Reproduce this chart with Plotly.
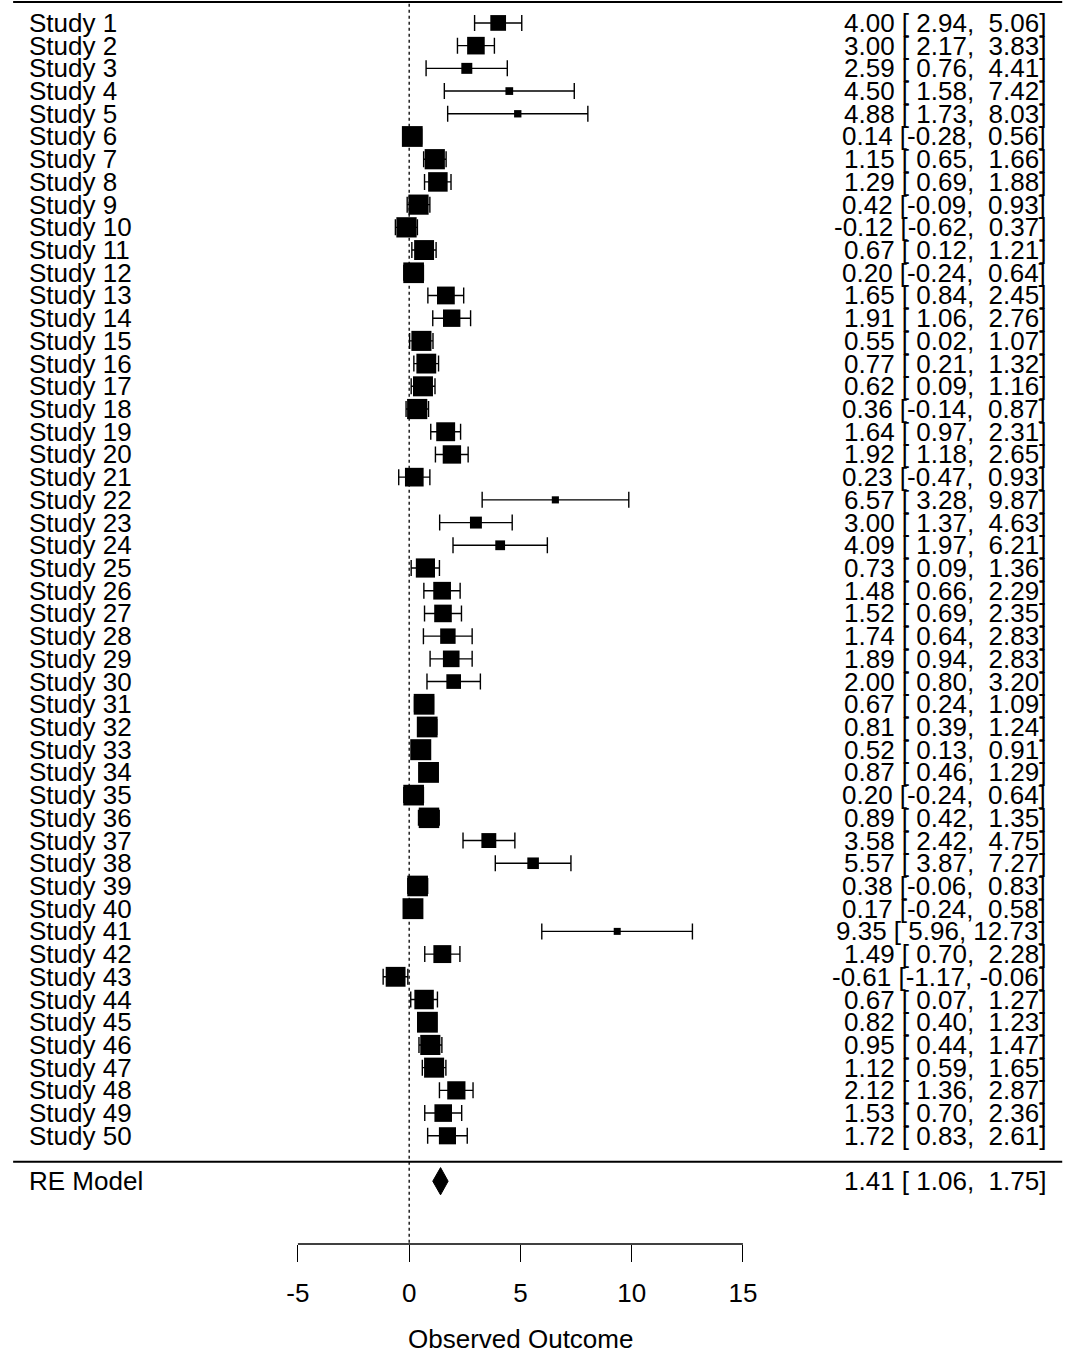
import plotly.graph_objects as go

studies = [f"Study {i}" for i in range(1, 51)]
est = [4.00, 3.00, 2.59, 4.50, 4.88, 0.14, 1.15, 1.29, 0.42, -0.12,
       0.67, 0.20, 1.65, 1.91, 0.55, 0.77, 0.62, 0.36, 1.64, 1.92,
       0.23, 6.57, 3.00, 4.09, 0.73, 1.48, 1.52, 1.74, 1.89, 2.00,
       0.67, 0.81, 0.52, 0.87, 0.20, 0.89, 3.58, 5.57, 0.38, 0.17,
       9.35, 1.49, -0.61, 0.67, 0.82, 0.95, 1.12, 2.12, 1.53, 1.72]
lower = [2.94, 2.17, 0.76, 1.58, 1.73, -0.28, 0.65, 0.69, -0.09, -0.62,
         0.12, -0.24, 0.84, 1.06, 0.02, 0.21, 0.09, -0.14, 0.97, 1.18,
         -0.47, 3.28, 1.37, 1.97, 0.09, 0.66, 0.69, 0.64, 0.94, 0.80,
         0.24, 0.39, 0.13, 0.46, -0.24, 0.42, 2.42, 3.87, -0.06, -0.24,
         5.96, 0.70, -1.17, 0.07, 0.40, 0.44, 0.59, 1.36, 0.70, 0.83]
upper = [5.06, 3.83, 4.41, 7.42, 8.03, 0.56, 1.66, 1.88, 0.93, 0.37,
         1.21, 0.64, 2.45, 2.76, 1.07, 1.32, 1.16, 0.87, 2.31, 2.65,
         0.93, 9.87, 4.63, 6.21, 1.36, 2.29, 2.35, 2.83, 2.83, 3.20,
         1.09, 1.24, 0.91, 1.29, 0.64, 1.35, 4.75, 7.27, 0.83, 0.58,
         12.73, 2.28, -0.06, 1.27, 1.23, 1.47, 1.65, 2.87, 2.36, 2.61]
re_label = "RE Model"
re_est, re_lower, re_upper = 1.41, 1.06, 1.75
xticks = [-5, 0, 5, 10, 15]
xlabel = "Observed Outcome"

FONT = "Liberation Sans, Arial, Helvetica, sans-serif"
FS = 26
k = len(studies)
rows = [k - i for i in range(k)]  # 50 .. 1
re_row = -1

# square sizes scaled by inverse-variance (random-effects style) weights
tau2 = 0.5
w = [1.0 / (((u - l) / 3.92) ** 2 + tau2) for l, u in zip(lower, upper)]
wmin, wmax = min(w), max(w)
sizes = [7 + 14 * (wi - wmin) / (wmax - wmin) for wi in w]

fig = go.Figure()

# confidence intervals (drawn first, under the squares)
fig.add_trace(go.Scatter(
    x=est, y=rows, mode="markers",
    marker=dict(size=1, color="rgba(0,0,0,0)"),
    error_x=dict(type="data", symmetric=False,
                 array=[u - e for u, e in zip(upper, est)],
                 arrayminus=[e - l for e, l in zip(est, lower)],
                 color="black", thickness=1.4, width=8),
    showlegend=False, hoverinfo="skip"))

# point estimates
fig.add_trace(go.Scatter(
    x=est, y=rows, mode="markers",
    marker=dict(symbol="square", size=sizes, color="black", opacity=1,
                line=dict(width=0)),
    showlegend=False, hoverinfo="skip"))

# summary diamond
h = 0.6
fig.add_trace(go.Scatter(
    x=[re_lower, re_est, re_upper, re_est, re_lower],
    y=[re_row, re_row + h, re_row, re_row - h, re_row],
    mode="lines", fill="toself", fillcolor="black",
    line=dict(color="black", width=1), showlegend=False, hoverinfo="skip"))

xl, xr = -17.8, 29.35
x_lab = -17.18
x_ann = 28.69
ytop = 51.01
ybot = -3.765

NB = "\u00a0"
def fmt(e, l, u):
    s = f"{e:.2f} [{l:5.2f}, {u:5.2f}]"
    return s.replace(" ", NB)

annotations = []
for name, r, e, l, u in zip(studies, rows, est, lower, upper):
    annotations.append(dict(x=x_lab, y=r, xref="x", yref="y", text=name,
                            xanchor="left", yanchor="middle", showarrow=False,
                            font=dict(family=FONT, size=FS, color="black")))
    annotations.append(dict(x=x_ann, y=r, xref="x", yref="y", text=fmt(e, l, u),
                            xanchor="right", yanchor="middle", showarrow=False,
                            font=dict(family=FONT, size=FS, color="black")))
annotations.append(dict(x=x_lab, y=re_row, xref="x", yref="y", text=re_label,
                        xanchor="left", yanchor="middle", showarrow=False,
                        font=dict(family=FONT, size=FS, color="black")))
annotations.append(dict(x=x_ann, y=re_row, xref="x", yref="y",
                        text=fmt(re_est, re_lower, re_upper),
                        xanchor="right", yanchor="middle", showarrow=False,
                        font=dict(family=FONT, size=FS, color="black")))
annotations.append(dict(x=(xticks[0] + xticks[-1]) / 2, y=0.0, xref="x",
                        yref="paper", yshift=-95, text=xlabel,
                        xanchor="center", yanchor="middle", showarrow=False,
                        font=dict(family=FONT, size=FS, color="black")))

shapes = [
    dict(type="line", xref="x", yref="y", x0=xl, x1=xr, y0=50.92, y1=50.92,
         line=dict(color="black", width=2)),
    dict(type="line", xref="x", yref="y", x0=xl, x1=xr, y0=-0.14, y1=-0.14,
         line=dict(color="black", width=2)),
    dict(type="line", xref="x", yref="y", x0=0, x1=0, y0=50.85, y1=ybot,
         line=dict(color="black", width=1.3, dash="dot")),
    dict(type="line", xref="x", yref="y domain", x0=xticks[0], x1=xticks[-1],
         y0=0, y1=0, line=dict(color="black", width=1.4)),
]

fig.update_layout(
    width=1066, height=1353,
    margin=dict(l=0, r=0, t=0, b=109),
    paper_bgcolor="white", plot_bgcolor="white",
    font=dict(family=FONT, size=FS, color="black"),
    annotations=annotations, shapes=shapes,
    xaxis=dict(range=[-18.39, 29.52], showgrid=False, zeroline=False,
               showline=False, tickmode="array", tickvals=xticks,
               ticktext=[str(t) for t in xticks], ticks="outside",
               ticklen=17, tickwidth=1.4, tickcolor="black",
               ticklabelstandoff=9,
               tickfont=dict(family=FONT, size=FS, color="black")),
    yaxis=dict(range=[ybot, ytop], showgrid=False, zeroline=False,
               showline=False, showticklabels=False, ticks=""),
)

fig.write_html("out.html", config={"displayModeBar": False},
               post_script="document.body.style.margin='0';document.body.style.overflow='hidden';")
